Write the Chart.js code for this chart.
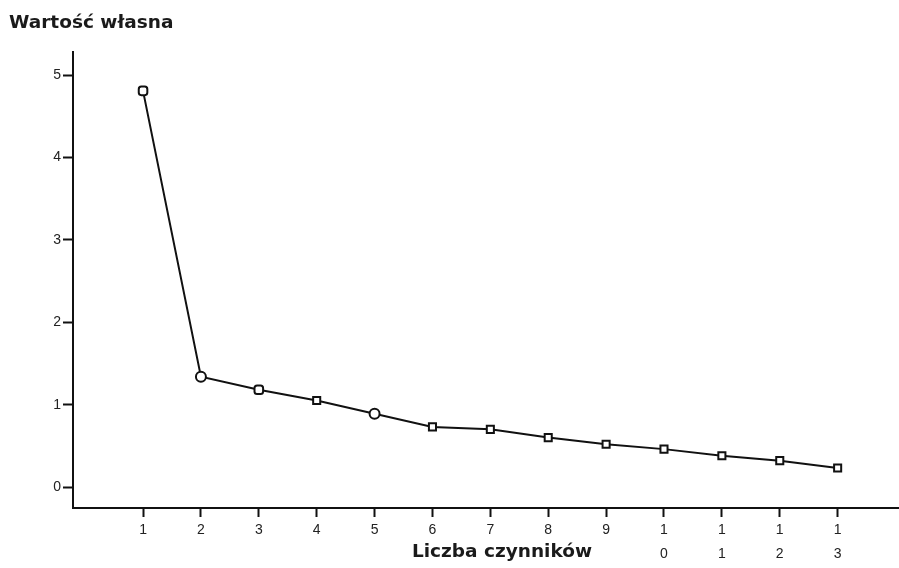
<!DOCTYPE html>
<html>
<head>
<meta charset="utf-8">
<script src="https://cdn.jsdelivr.net/npm/chart.js@4"></script>
<style>
  html, body { margin: 0; padding: 0; background: #fff; }
  #wrap { width: 899px; height: 568px; }
</style>
</head>
<body>
<div id="wrap"><canvas id="screeChart" width="899" height="568"></canvas></div>
<script>
// Scree plot data
const factorNumbers = [1, 2, 3, 4, 5, 6, 7, 8, 9, 10, 11, 12, 13];
const eigenValues = [4.81, 1.34, 1.18, 1.05, 0.89, 0.73, 0.70, 0.60, 0.52, 0.46, 0.38, 0.32, 0.23];
const yTickValues = [0, 1, 2, 3, 4, 5];

const chartTitle = 'Wartość własna';
const xAxisTitle = 'Liczba czynników';

// marker shapes, roughly like the original symbols
const markerStyles = ['rectRounded', 'circle', 'rectRounded', 'rect', 'circle', 'rect', 'rect', 'rect', 'rect', 'rect', 'rect', 'rect', 'rect'];

const points = factorNumbers.map((n, i) => ({ x: n, y: eigenValues[i] }));

// x axis title sits a bit right of centre in the original, so draw it by hand
const xTitlePlugin = {
  id: 'xTitle',
  afterDraw(chart) {
    const c = chart.ctx;
    c.save();
    c.font = 'bold 18.5px "DejaVu Sans"';
    c.fillStyle = '#1a1a1a';
    c.textAlign = 'center';
    c.textBaseline = 'middle';
    c.fillText(xAxisTitle, 502, 552);
    c.restore();
  }
};

const ctx = document.getElementById('screeChart').getContext('2d');
new Chart(ctx, {
  type: 'line',
  data: {
    datasets: [{
      data: points,
      borderColor: '#111',
      borderWidth: 2,
      pointStyle: markerStyles,
      pointRadius: 5,
      pointBorderWidth: 2,
      pointBorderColor: '#111',
      pointBackgroundColor: '#fff',
      tension: 0
    }]
  },
  plugins: [xTitlePlugin],
  options: {
    responsive: false,
    animation: false,
    layout: { autoPadding: false, padding: { left: 9, right: 0, top: 0, bottom: 0 } },
    plugins: {
      legend: { display: false },
      tooltip: { enabled: false },
      title: {
        display: true,
        text: chartTitle,
        align: 'start',
        color: '#1a1a1a',
        font: { family: 'DejaVu Sans', size: 18.5, weight: 'bold' },
        padding: { top: 12, bottom: 18 }
      }
    },
    scales: {
      x: {
        type: 'linear',
        min: -0.21,
        max: 14.06,
        afterBuildTicks: s => { s.ticks = factorNumbers.map(v => ({ value: v })); },
        afterFit: s => { s.height = 60; },
        grid: { drawOnChartArea: false, tickLength: 9, tickWidth: 2, tickColor: '#111' },
        border: { display: true, color: '#111', width: 2 },
        ticks: {
          color: '#222',
          padding: 2,
          maxRotation: 0,
          autoSkip: false,
          font: { family: 'Liberation Sans', size: 14, lineHeight: 1.65 },
          callback: v => String(v).split('')
        }
      },
      y: {
        type: 'linear',
        min: -0.255,
        max: 5.28,
        afterBuildTicks: s => { s.ticks = yTickValues.map(v => ({ value: v })); },
        afterFit: s => { s.width = 64; },
        grid: { drawOnChartArea: false, tickLength: 10, tickWidth: 2, tickColor: '#111' },
        border: { display: true, color: '#111', width: 2 },
        ticks: {
          color: '#222',
          padding: 2,
          font: { family: 'Liberation Sans', size: 14 }
        }
      }
    }
  }
});
</script>
</body>
</html>
